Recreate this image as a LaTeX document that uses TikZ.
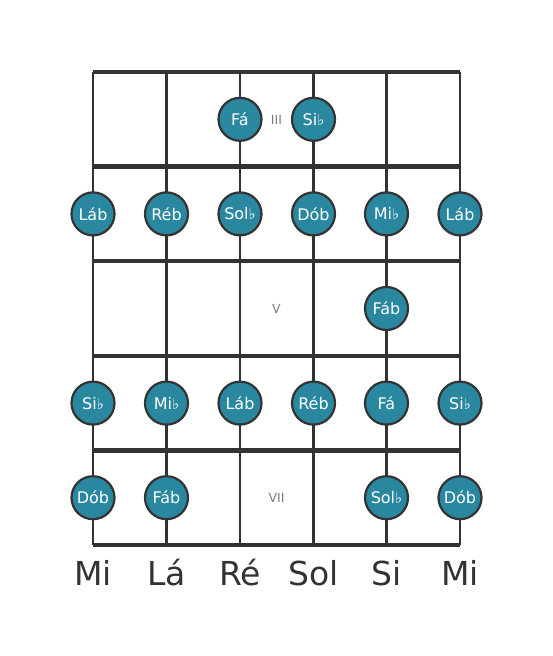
\documentclass[tikz,border=0pt]{standalone}
\usepackage{fontspec}
\setmainfont{DejaVu Sans}
\definecolor{notefill}{HTML}{2A87A0}
\definecolor{ink}{HTML}{333333}
\definecolor{fretnum}{HTML}{7A7A7A}
\tikzset{
  fretline/.style={draw=ink, line width=4.5pt},
  stringline/.style={draw=ink, line width=2.2pt},
  notedot/.style={circle, fill=notefill, draw=ink, line width=2.2pt, minimum size=43pt, inner sep=0pt, text=white, font=\fontsize{16}{16}\selectfont},
  fretlabel/.style={text=fretnum, font=\fontsize{12.5}{12.5}\selectfont},
  strlabel/.style={text=ink, font=\fontsize{33}{33}\selectfont},
}
\newcommand{\fl}{{\fontsize{15}{15}\selectfont ♭}}
\begin{document}
\begin{tikzpicture}[x=1pt,y=-1pt]
\useasboundingbox (0,0) rectangle (553,656);
% strings
\foreach \i/\x in {1/93,2/166.5,3/240,4/313.5,5/386.5,6/460}{
  \coordinate (st\i) at (\x,72);
  \coordinate (sb\i) at (\x,545);
  \draw[stringline] (st\i) -- (sb\i);
}
% frets
\foreach \j/\y in {0/72,1/166.6,2/261.2,3/355.8,4/450.4,5/545}{
  \coordinate (fl\j) at (93,\y);
  \coordinate (fr\j) at (460,\y);
  \draw[fretline] (fl\j) -- (fr\j);
}
% fret numbers
\node[fretlabel] (n3) at (276.5,120) {III};
\node[fretlabel] (n5) at (276.5,309) {V};
\node[fretlabel] (n7) at (276.5,498) {VII};
% notes
\node[notedot] (a3) at (240,119.3) {Fá};
\node[notedot] (a4) at (313.5,119.3) {Si\fl};
\node[notedot] (b1) at (93,213.9) {Láb};
\node[notedot] (b2) at (166.5,213.9) {Réb};
\node[notedot] (b3) at (240,213.9) {Sol\fl};
\node[notedot] (b4) at (313.5,213.9) {Dób};
\node[notedot] (b5) at (386.5,213.9) {Mi\fl};
\node[notedot] (b6) at (460,213.9) {Láb};
\node[notedot] (c5) at (386.5,308.5) {Fáb};
\node[notedot] (d1) at (93,403.1) {Si\fl};
\node[notedot] (d2) at (166.5,403.1) {Mi\fl};
\node[notedot] (d3) at (240,403.1) {Láb};
\node[notedot] (d4) at (313.5,403.1) {Réb};
\node[notedot] (d5) at (386.5,403.1) {Fá};
\node[notedot] (d6) at (460,403.1) {Si\fl};
\node[notedot] (e1) at (93,497.7) {Dób};
\node[notedot] (e2) at (166.5,497.7) {Fáb};
\node[notedot] (e5) at (386.5,497.7) {Sol\fl};
\node[notedot] (e6) at (460,497.7) {Dób};
% string names
\node[strlabel] (l1) at (93,573) {Mi};
\node[strlabel] (l2) at (166.5,573) {Lá};
\node[strlabel] (l3) at (240,573) {Ré};
\node[strlabel] (l4) at (313.5,573) {Sol};
\node[strlabel] (l5) at (386.5,573) {Si};
\node[strlabel] (l6) at (460,573) {Mi};
\end{tikzpicture}
\end{document}
